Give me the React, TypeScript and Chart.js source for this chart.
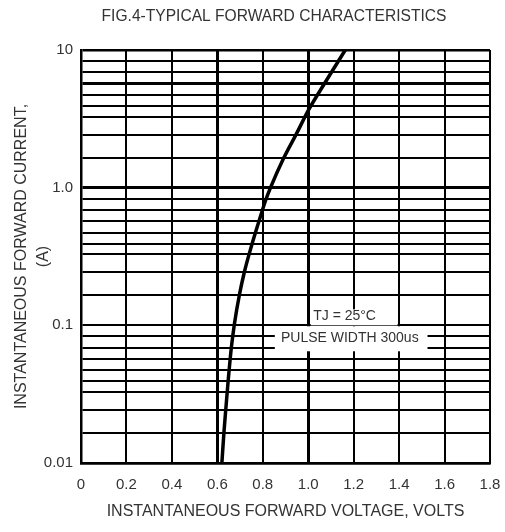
import React, { useEffect, useRef } from 'react';
import { Chart, registerables } from 'chart.js';

Chart.register(...registerables);

// Forward voltage (V) and instantaneous forward current (A)
const voltage = [0.62, 0.629, 0.637, 0.648, 0.662, 0.675, 0.697, 0.719, 0.749, 0.785, 0.813, 0.835, 0.888, 0.948, 1.004, 1.073, 1.163];
const current = [0.01, 0.0166, 0.0243, 0.0401, 0.0697, 0.102, 0.166, 0.244, 0.371, 0.583, 0.814, 1.01, 1.59, 2.46, 3.73, 5.76, 10];

const xTickValues = [0, 0.2, 0.4, 0.6, 0.8, 1.0, 1.2, 1.4, 1.6, 1.8];
const xTickLabels = ['0', '0.2', '0.4', '0.6', '0.8', '1.0', '1.2', '1.4', '1.6', '1.8'];
const yDecades = [0.01, 0.1, 1, 10];
const yTickLabels = ['0.01', '0.1', '1.0', '10'];
// grid lines inside each decade (as drawn on the datasheet grid)
const gridMultipliers = [1.65, 2.42, 3.27, 3.93, 4.72, 5.71, 6.87, 8.32];

const titleText = 'FIG.4-TYPICAL FORWARD CHARACTERISTICS';
const xTitle = 'INSTANTANEOUS FORWARD VOLTAGE, VOLTS';
const yTitle = ['INSTANTANEOUS FORWARD CURRENT,', '(A)'];
const noteLines = ['TJ = 25°C', 'PULSE WIDTH 300us'];

const FONT = "'Liberation Sans', Arial, sans-serif";
const TEXT = '#333';

const yGridValues: number[] = [];
yDecades.forEach((d, i) => {
  yGridValues.push(d);
  if (i < yDecades.length - 1) gridMultipliers.forEach((m) => yGridValues.push(+(d * m).toPrecision(4)));
});
yGridValues.sort((a, b) => a - b);

const near = (a: number, b: number) => Math.abs(a - b) < 1e-6 * Math.max(1, Math.abs(b));

const decorPlugin = {
  id: 'decor',
  afterDatasetsDraw(chart: any) {
    const { ctx, chartArea, scales } = chart;
    const x = scales.x;
    const y = scales.y;
    ctx.save();
    // note boxes (white backgrounds that break the grid)
    const boxes = [
      { v0: 1.011, v1: 1.393, i0: 0.1306, i1: 0.1 },
      { v0: 0.853, v1: 1.525, i0: 0.0984, i1: 0.0648 },
    ];
    ctx.fillStyle = '#fff';
    boxes.forEach((b) => {
      const x0 = x.getPixelForValue(b.v0);
      const x1 = x.getPixelForValue(b.v1);
      const y0 = y.getPixelForValue(b.i0);
      const y1 = y.getPixelForValue(b.i1);
      ctx.fillRect(Math.min(x0, x1), Math.min(y0, y1), Math.abs(x1 - x0), Math.abs(y1 - y0));
    });
    ctx.fillStyle = TEXT;
    ctx.font = `14px ${FONT}`;
    ctx.textAlign = 'center';
    ctx.textBaseline = 'middle';
    ctx.fillText(noteLines[0], x.getPixelForValue(1.16), y.getPixelForValue(0.116));
    ctx.fillText(noteLines[1], x.getPixelForValue(1.183), y.getPixelForValue(0.0805));
    // chart title
    ctx.font = `15.6px ${FONT}`;
    ctx.fillText(titleText, (chartArea.left + chartArea.right) / 2 - 11.5, 17);
    ctx.restore();
  },
};

export default function App() {
  const ref = useRef<HTMLCanvasElement | null>(null);

  useEffect(() => {
    if (!ref.current) return;
    const chart = new Chart(ref.current, {
      type: 'line',
      data: {
        datasets: [
          {
            data: voltage.map((v, i) => ({ x: v, y: current[i] })),
            borderColor: '#000',
            borderWidth: 3.5,
            pointRadius: 0,
            cubicInterpolationMode: 'monotone',
            fill: false,
          },
        ],
      },
      options: {
        responsive: false,
        animation: false,
        devicePixelRatio: 1,
        layout: { padding: { top: 50, right: 15, left: 0, bottom: 0 } },
        plugins: {
          legend: { display: false },
          title: { display: false },
          tooltip: { enabled: false },
        },
        scales: {
          x: {
            type: 'linear',
            min: 0,
            max: 1.8,
            afterBuildTicks: (scale: any) => {
              scale.ticks = xTickValues.map((v) => ({ value: v }));
            },
            afterFit: (scale: any) => {
              scale.height = 69;
              scale.paddingLeft = 0;
              scale.paddingRight = 0;
            },
            ticks: {
              autoSkip: false,
              maxRotation: 0,
              padding: 13,
              color: TEXT,
              font: { family: FONT, size: 15 },
              callback: (value: any) => {
                const idx = xTickValues.findIndex((t) => near(t, Number(value)));
                return idx >= 0 ? xTickLabels[idx] : '';
              },
            },
            grid: {
              color: '#000',
              drawTicks: false,
              lineWidth: (c: any) => {
                const v = c.tick ? c.tick.value : 0;
                if (near(v, 0.6) || near(v, 1.0)) return 3;
                return 2;
              },
            },
            border: { color: '#000', width: 2.5 },
            title: {
              display: true,
              text: xTitle,
              color: TEXT,
              font: { family: FONT, size: 16, lineHeight: 1.2 },
              padding: { top: 0, bottom: 10.4 },
            },
          },
          y: {
            type: 'logarithmic',
            min: 0.01,
            max: 10,
            afterBuildTicks: (scale: any) => {
              scale.ticks = yGridValues.map((v) => ({ value: v }));
            },
            afterFit: (scale: any) => {
              scale.width = 81;
            },
            ticks: {
              autoSkip: false,
              padding: 8,
              color: TEXT,
              font: { family: FONT, size: 15 },
              callback: (value: any) => {
                const idx = yDecades.findIndex((t) => near(t, Number(value)));
                return idx >= 0 ? yTickLabels[idx] : '';
              },
            },
            grid: {
              color: '#000',
              drawTicks: false,
              lineWidth: (c: any) => {
                const v = c.tick ? c.tick.value : 0;
                if (near(v, 1) || near(v, 5.71)) return 3;
                if (near(v, 10) || near(v, 0.01)) return 2.5;
                return 2;
              },
            },
            border: { color: '#000', width: 2.5 },
            title: {
              display: true,
              text: yTitle,
              color: TEXT,
              font: { family: FONT, size: 16, lineHeight: 1.375 },
              padding: { top: 11, bottom: 0 },
            },
          },
        },
      },
      plugins: [decorPlugin],
    } as any);
    return () => chart.destroy();
  }, []);

  return (
    <div style={{ position: 'absolute', left: 0, top: 0, width: 505, height: 532, background: '#fff' }}>
      <canvas ref={ref} width={505} height={532} style={{ display: 'block' }} />
    </div>
  );
}
